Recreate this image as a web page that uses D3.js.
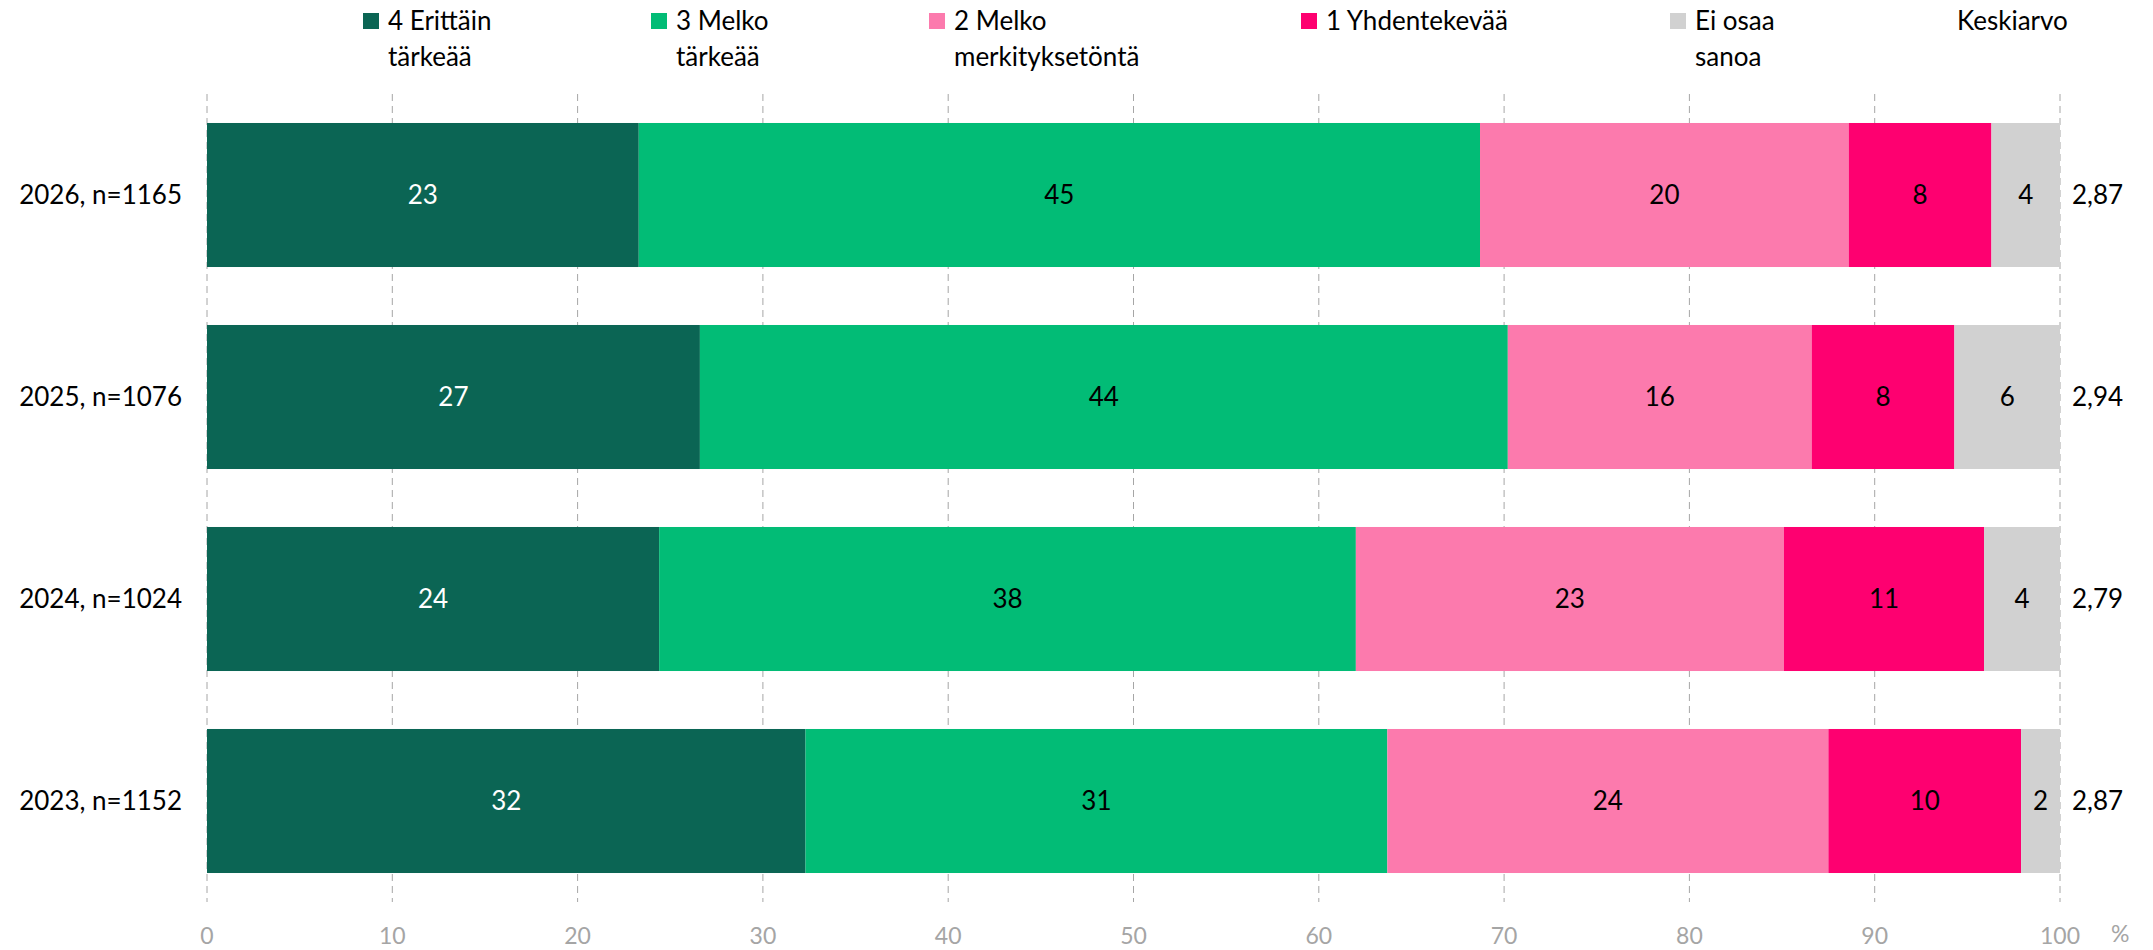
<!DOCTYPE html>
<html>
<head>
<meta charset="utf-8">
<script src="https://cdn.jsdelivr.net/npm/d3@7"></script>
<style>
  body { margin: 0; background: #fff; }
  svg text { font-family: Lato, "Open Sans", sans-serif; }
</style>
</head>
<body>
<svg id="chart" width="2153" height="950"></svg>
<script>
// Data
var years = ["2026, n=1165", "2025, n=1076", "2024, n=1024", "2023, n=1152"];
var series = ["4 Erittäin tärkeää", "3 Melko tärkeää", "2 Melko merkityksetöntä", "1 Yhdentekevää", "Ei osaa sanoa"];
var v4 = [23.3, 26.6, 24.4, 32.3];
var v3 = [45.4, 43.6, 37.6, 31.4];
var v2 = [19.9, 16.4, 23.1, 23.8];
var v1 = [7.7, 7.7, 10.8, 10.4];
var veos = [3.7, 5.7, 4.1, 2.1];
var means = ["2,87", "2,94", "2,79", "2,87"];
var ticks = [0, 10, 20, 30, 40, 50, 60, 70, 80, 90, 100];

var legendLines = [["4 Erittäin", "tärkeää"], ["3 Melko", "tärkeää"], ["2 Melko", "merkityksetöntä"], ["1 Yhdentekevää"], ["Ei osaa", "sanoa"]];
var colors = ["#0b6554", "#02bc76", "#fc7aad", "#fe0070", "#d1d1d1"];
var labelColors = ["#ffffff", "#000000", "#000000", "#000000", "#000000"];
var legendX = [363, 651, 929, 1301, 1670];   // excel spreads legend items unevenly

// build the table d3.stack wants
var cols = [v4, v3, v2, v1, veos];
var table = years.map(function (y, i) {
  var row = { year: y, mean: means[i] };
  series.forEach(function (s, j) { row[s] = cols[j][i]; });
  return row;
});

var svg = d3.select("#chart");

var x = d3.scaleLinear().domain([0, 100]).range([207, 2060]);
var y = d3.scaleBand().domain(years).range([94, 902]).paddingInner(0.287).paddingOuter(0.1435);

// dashed grid
svg.append("g").selectAll("line").data(ticks).enter().append("line")
  .attr("x1", function (d) { return x(d); })
  .attr("x2", function (d) { return x(d); })
  .attr("y1", 94).attr("y2", 902)
  .attr("stroke", "#a6a6a6").attr("stroke-width", 1)
  .attr("stroke-dasharray", "7,5");

var stacked = d3.stack().keys(series)(table);

var layers = svg.append("g").selectAll("g").data(stacked).enter().append("g")
  .attr("fill", function (d, i) { return colors[i]; });

layers.selectAll("rect").data(function (d) { return d; }).enter().append("rect")
  .attr("x", function (d) { return x(d[0]); })
  .attr("y", function (d) { return y(d.data.year); })
  .attr("width", function (d) { return x(d[1]) - x(d[0]); })
  .attr("height", y.bandwidth());

// value labels in the segments
layers.each(function (layer, i) {
  d3.select(this).selectAll("text").data(layer).enter().append("text")
    .attr("x", function (d) { return (x(d[0]) + x(d[1])) / 2; })
    .attr("y", function (d) { return y(d.data.year) + y.bandwidth() / 2; })
    .attr("dy", "0.36em")
    .attr("text-anchor", "middle")
    .attr("font-size", 26)
    .attr("fill", labelColors[i])
    .text(function (d) { return Math.round(d[1] - d[0]); });
});

// category labels
svg.append("g").selectAll("text").data(table).enter().append("text")
  .attr("x", 182)
  .attr("y", function (d) { return y(d.year) + y.bandwidth() / 2; })
  .attr("dy", "0.36em")
  .attr("text-anchor", "end")
  .attr("font-size", 26)
  .attr("fill", "#000")
  .text(function (d) { return d.year; });

// keskiarvo column
svg.append("g").selectAll("text").data(table).enter().append("text")
  .attr("x", 2072)
  .attr("y", function (d) { return y(d.year) + y.bandwidth() / 2; })
  .attr("dy", "0.36em")
  .attr("font-size", 26)
  .attr("fill", "#000")
  .text(function (d) { return d.mean; });

// x axis tick labels
svg.append("g").selectAll("text").data(ticks).enter().append("text")
  .attr("x", function (d) { return x(d); })
  .attr("y", 944)
  .attr("text-anchor", "middle")
  .attr("font-size", 23)
  .attr("fill", "#a5a5a5")
  .text(function (d) { return d; });

svg.append("text").attr("x", 2111).attr("y", 942)
  .attr("font-size", 23).attr("fill", "#a5a5a5").text("%");

// legend
var leg = svg.append("g").selectAll("g").data(legendLines).enter().append("g")
  .attr("transform", function (d, i) { return "translate(" + legendX[i] + ",0)"; });
leg.append("rect").attr("x", 0).attr("y", 13).attr("width", 16).attr("height", 16)
  .attr("fill", function (d, i) { return colors[i]; });
leg.each(function (lines) {
  d3.select(this).selectAll("text").data(lines).enter().append("text")
    .attr("x", 25)
    .attr("y", function (d, k) { return 30 + k * 36; })
    .attr("font-size", 26)
    .attr("fill", "#000")
    .text(function (d) { return d; });
});
svg.append("text").attr("x", 1957).attr("y", 30)
  .attr("font-size", 26).attr("fill", "#000").text("Keskiarvo");
</script>
</body>
</html>
